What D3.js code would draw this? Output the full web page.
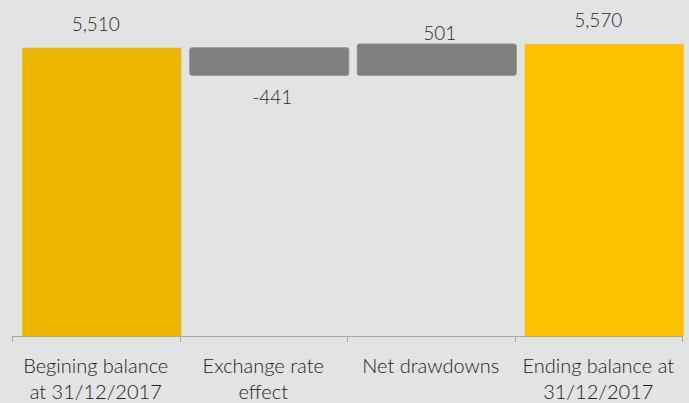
<!DOCTYPE html>
<html><head><meta charset="utf-8">
<script src="https://cdn.jsdelivr.net/npm/d3@7"></script>
<style>
html,body{margin:0;padding:0;background:#e2e3e3;}
svg{display:block;font-family:Lato,"Open Sans",sans-serif;}
</style></head><body>
<svg id="c" width="689" height="403"></svg>
<script>
const categories = [["Begining balance","at 31/12/2017"],["Exchange rate","effect"],["Net drawdowns"],["Ending balance at","31/12/2017"]];
const kinds = ["total","delta","delta","total"];
const values = [5510, -441, 501, 5570];
const valueLabels = ["5,510","-441","501","5,570"];
const colors = ["#ebb700","#808080","#808080","#ffc000"];

const W=689,H=403;
const svg=d3.select("#c");
const x=d3.scaleBand().domain(d3.range(values.length)).range([12,682]).paddingInner(0).paddingOuter(0);
const y=d3.scaleLinear().domain([900,5570]).range([336,44]);

let run=0;
const bars=values.map((v,i)=>{
  let y0,y1;
  if(kinds[i]==="total"){y0=y.domain()[0];y1=v;run=v;}
  else{y0=run;y1=run+v;run=run+v;}
  return {i,v,lo:Math.min(y0,y1),hi:Math.max(y0,y1)};
});
const bw=159, off=6;
const bx=i=>x(i)+x.bandwidth()/2-bw/2+off;

svg.selectAll("rect.bar").data(bars).join("rect")
  .attr("x",d=>bx(d.i)).attr("width",bw)
  .attr("y",d=>y(d.hi)).attr("height",d=>y(d.lo)-y(d.hi))
  .attr("fill",d=>colors[d.i])
  .attr("stroke",d=>kinds[d.i]==="delta"?"#8c8c8c":"none")
  .attr("stroke-width",1)
  .attr("rx",d=>kinds[d.i]==="delta"?2:0);

svg.selectAll("text.val").data(bars).join("text")
  .attr("x",d=>kinds[d.i]==="total"? x(d.i)+x.bandwidth()/2 : bx(d.i)+bw/2+3)
  .attr("y",d=>kinds[d.i]==="total"? y(d.hi)-17 : (d.v>=0? y(d.hi)-4 : y(d.lo)+29))
  .attr("text-anchor","middle")
  .attr("font-size",19).attr("font-weight",300).attr("fill","#2a2a2a")
  .text(d=>valueLabels[d.i]);

const axis=svg.append("g");
axis.append("line").attr("x1",12).attr("x2",682).attr("y1",336.5).attr("y2",336.5).attr("stroke","#a6a6a6");
const ticks=d3.range(values.length+1).map(i=>i<values.length?x(i):x(values.length-1)+x.bandwidth());
axis.selectAll("line.t").data(ticks).join("line")
  .attr("x1",d=>Math.round(d)+0.5).attr("x2",d=>Math.round(d)+0.5)
  .attr("y1",336).attr("y2",342).attr("stroke","#a6a6a6");

const cat=svg.selectAll("text.cat").data(categories).join("text")
  .attr("text-anchor","middle").attr("font-size",20).attr("font-weight",300).attr("fill","#222");
cat.each(function(lines,i){
  d3.select(this).selectAll("tspan").data(lines).join("tspan")
    .attr("x",x(i)+x.bandwidth()/2)
    .attr("y",(l,j)=>373+j*26)
    .text(l=>l);
});
</script>
</body></html>
